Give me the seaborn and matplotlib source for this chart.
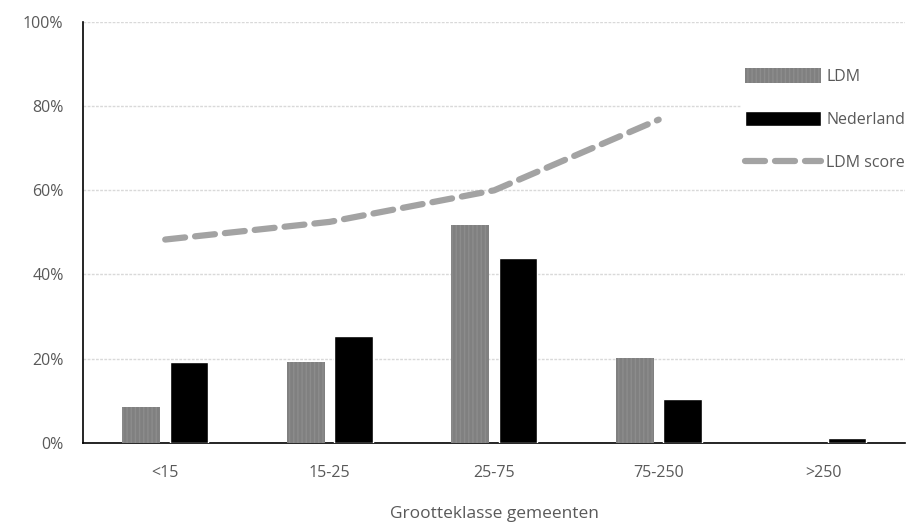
import pandas as pd
import seaborn as sns
import matplotlib.pyplot as plt
from matplotlib.ticker import PercentFormatter
from matplotlib.patches import Patch
from matplotlib.lines import Line2D

# data
categorieen = ['<15', '15-25', '25-75', '75-250', '>250']
ldm = [8.5, 19.2, 51.8, 20.2, 0.0]
nederland = [19.2, 25.3, 43.8, 10.3, 1.2]
ldm_score = [48.3, 52.5, 60.0, 76.8, None]

df = pd.DataFrame({
    'klasse': categorieen * 2,
    'groep': ['LDM'] * 5 + ['Nederland'] * 5,
    'aandeel': ldm + nederland,
})
df_score = pd.DataFrame({'klasse': categorieen, 'score': ldm_score}).dropna()

sns.set_theme(style='white')
plt.rcParams['font.family'] = ['Open Sans', 'DejaVu Sans']
plt.rcParams['hatch.color'] = '#6e6e6e'
tekst = '#595959'

fig = plt.figure(figsize=(9.22, 5.24), dpi=100)
ax = fig.add_axes([0.09, 0.155, 0.892, 0.803])

sns.barplot(data=df, x='klasse', y='aandeel', hue='groep', order=categorieen,
            palette={'LDM': '#808080', 'Nederland': '#000000'},
            width=0.58, gap=0.2, ax=ax, legend=False, zorder=3)
for bar in ax.patches[:5]:
    bar.set_hatch('||||')
    bar.set_edgecolor('#8c8c8c')
    bar.set_linewidth(0)

sns.lineplot(data=df_score, x='klasse', y='score', color='#a3a3a3', lw=4.5,
             dashes=False, ax=ax, zorder=4)
ax.lines[-1].set_linestyle((0, (3.2, 1.6)))
ax.lines[-1].set_dash_capstyle('round')

ax.set_ylim(0, 100)
ax.set_xlim(-0.5, 4.5)
ax.set_yticks(range(0, 101, 20))
ax.yaxis.set_major_formatter(PercentFormatter(decimals=0))
ax.grid(axis='y', color='#d9d9d9', lw=1, ls=(0, (2, 1)), zorder=0)
ax.tick_params(axis='y', length=0, labelsize=11.5, colors=tekst, pad=14)
ax.tick_params(axis='x', length=0, labelsize=11.5, colors=tekst, pad=16)
for s in ['top', 'right']:
    ax.spines[s].set_visible(False)
ax.spines['left'].set_color('#000000')
ax.spines['bottom'].set_color('#000000')
ax.spines['left'].set_linewidth(1.2)
ax.spines['bottom'].set_linewidth(1.2)
ax.set_ylabel('')
ax.set_xlabel('Grootteklasse gemeenten', fontsize=12.5, color=tekst, labelpad=18)

# legende
handles = [
    Patch(facecolor='#808080', hatch='||||', edgecolor='#8c8c8c', lw=0),
    Patch(facecolor='#000000'),
    Line2D([0], [0], color='#a3a3a3', lw=4.5, ls=(0, (3.2, 1.6)), dash_capstyle='round'),
]
leg = ax.legend(handles, ['LDM', 'Nederland', 'LDM score'], loc='upper left',
                bbox_to_anchor=(0.79, 0.92), frameon=True, facecolor='white',
                edgecolor='white', fontsize=11.5, labelspacing=1.65,
                handlelength=4.7, handleheight=1.0, handletextpad=0.35,
                borderpad=0.3, framealpha=1)
for t in leg.get_texts():
    t.set_color(tekst)

fig.savefig('out.png', dpi=100)
